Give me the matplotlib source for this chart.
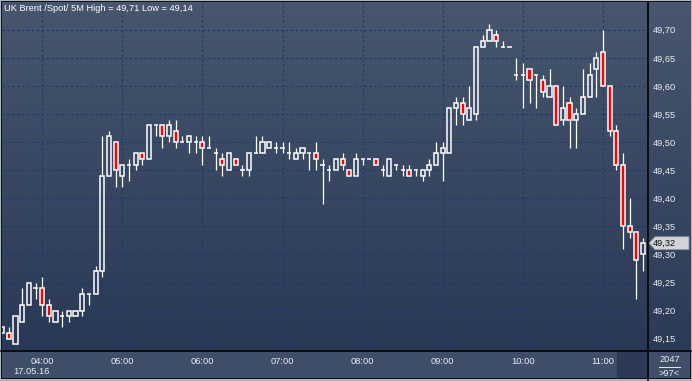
import matplotlib
matplotlib.use('Agg')
import matplotlib.pyplot as plt
import numpy as np
from matplotlib.patches import Polygon, Rectangle
from matplotlib.colors import LinearSegmentedColormap
from matplotlib.lines import Line2D

# ---------------- data (5-minute candles, first bar 03:30) ----------------
instrument = "UK Brent /Spot/ 5M"
date_label = "17.05.16"
first_bar_hour = 3.5
bar_minutes = 5
opens = [49.16, 49.16, 49.14, 49.18, 49.21, 49.24, 49.24, 49.21, 49.18, 49.19, 49.19, 49.19, 49.20, 49.23, 49.23, 49.27,
         49.44, 49.50, 49.44, 49.46, 49.46, 49.48, 49.47, 49.53, 49.53, 49.51, 49.52, 49.50, 49.50, 49.50, 49.50, 49.49,
         49.48, 49.47, 49.45, 49.47, 49.45, 49.45, 49.48, 49.48, 49.49, 49.49, 49.49, 49.48, 49.47, 49.48, 49.48, 49.48,
         49.46, 49.45, 49.45, 49.47, 49.45, 49.44, 49.47, 49.47, 49.47, 49.45, 49.44, 49.46, 49.45, 49.45, 49.45, 49.44,
         49.45, 49.46, 49.48, 49.48, 49.56, 49.57, 49.54, 49.55, 49.67, 49.68, 49.69, 49.67, 49.67, 49.62, 49.62, 49.63,
         49.62, 49.61, 49.58, 49.60, 49.54, 49.57, 49.54, 49.55, 49.58, 49.63, 49.66, 49.60, 49.52, 49.46, 49.35, 49.34,
         49.30]
highs = [49.17, 49.17, 49.19, 49.24, 49.25, 49.25, 49.26, 49.22, 49.20, 49.20, 49.20, 49.20, 49.24, 49.23, 49.28, 49.51,
         49.52, 49.50, 49.46, 49.47, 49.48, 49.48, 49.53, 49.53, 49.53, 49.54, 49.54, 49.51, 49.51, 49.51, 49.51, 49.51,
         49.49, 49.48, 49.48, 49.47, 49.46, 49.48, 49.51, 49.51, 49.50, 49.50, 49.50, 49.50, 49.49, 49.49, 49.48, 49.50,
         49.47, 49.46, 49.47, 49.48, 49.45, 49.48, 49.47, 49.47, 49.47, 49.46, 49.47, 49.46, 49.46, 49.46, 49.45, 49.45,
         49.47, 49.50, 49.50, 49.56, 49.58, 49.58, 49.60, 49.67, 49.69, 49.71, 49.70, 49.68, 49.67, 49.65, 49.64, 49.63,
         49.62, 49.62, 49.63, 49.60, 49.60, 49.58, 49.56, 49.63, 49.64, 49.66, 49.70, 49.60, 49.53, 49.48, 49.40, 49.34,
         49.33]
lows = [49.16, 49.15, 49.14, 49.18, 49.21, 49.22, 49.19, 49.18, 49.18, 49.17, 49.18, 49.19, 49.19, 49.21, 49.23, 49.26,
        49.44, 49.42, 49.42, 49.43, 49.45, 49.46, 49.47, 49.51, 49.49, 49.50, 49.49, 49.50, 49.48, 49.48, 49.46, 49.49,
        49.45, 49.44, 49.45, 49.46, 49.44, 49.44, 49.48, 49.48, 49.49, 49.48, 49.48, 49.47, 49.47, 49.47, 49.45, 49.45,
        49.39, 49.43, 49.45, 49.45, 49.44, 49.44, 49.46, 49.47, 49.46, 49.44, 49.44, 49.45, 49.44, 49.44, 49.44, 49.43,
        49.44, 49.46, 49.43, 49.48, 49.53, 49.53, 49.54, 49.54, 49.67, 49.68, 49.67, 49.67, 49.67, 49.61, 49.56, 49.57,
        49.56, 49.58, 49.58, 49.53, 49.53, 49.49, 49.49, 49.55, 49.58, 49.58, 49.60, 49.51, 49.45, 49.31, 49.33, 49.22,
        49.27]
closes = [49.17, 49.15, 49.19, 49.21, 49.25, 49.24, 49.21, 49.19, 49.20, 49.19, 49.20, 49.20, 49.23, 49.23, 49.27, 49.44,
          49.51, 49.45, 49.46, 49.46, 49.48, 49.47, 49.53, 49.53, 49.51, 49.53, 49.50, 49.50, 49.51, 49.50, 49.49, 49.49,
          49.48, 49.46, 49.48, 49.46, 49.45, 49.48, 49.48, 49.50, 49.50, 49.49, 49.49, 49.48, 49.48, 49.49, 49.48, 49.47,
          49.46, 49.45, 49.47, 49.46, 49.44, 49.47, 49.47, 49.47, 49.46, 49.45, 49.47, 49.46, 49.45, 49.44, 49.45, 49.45,
          49.46, 49.48, 49.49, 49.56, 49.57, 49.55, 49.56, 49.67, 49.68, 49.70, 49.68, 49.67, 49.67, 49.62, 49.62, 49.61,
          49.62, 49.59, 49.60, 49.53, 49.56, 49.54, 49.55, 49.58, 49.62, 49.65, 49.60, 49.52, 49.46, 49.35, 49.34, 49.29,
          49.32]
hour_ticks = [4, 5, 6, 7, 8, 9, 10, 11]
hour_labels = ["04:00", "05:00", "06:00", "07:00", "08:00", "09:00", "10:00", "11:00"]
price_ticks = [49.15, 49.20, 49.25, 49.30, 49.35, 49.40, 49.45, 49.50, 49.55, 49.60, 49.65, 49.70]
price_labels = ["49,15", "49,20", "49,25", "49,30", "49,35", "49,40", "49,45", "49,50", "49,55", "49,60", "49,65", "49,70"]
corner_top = "2047"
corner_bottom = ">97<"

# ---------------- figure ----------------
W, H = 692, 381
fig = plt.figure(figsize=(W / 100, H / 100), dpi=100)
fig.patch.set_facecolor('#aeb5c2')
FONT = 'Liberation Sans'
TXT = '#e8ebf0'
FS = 6.7

def px_axes(l, t, r, b, z=0):
    a = fig.add_axes([l / W, 1 - b / H, (r - l) / W, (b - t) / H])
    a.set_zorder(z)
    a.set_axis_off()
    return a

def gradient(a, top, bottom):
    cmap = LinearSegmentedColormap.from_list('g', [bottom, top])
    a.imshow(np.linspace(0, 1, 256).reshape(-1, 1), cmap=cmap, aspect='auto',
             extent=[0, 1, 0, 1], origin='lower', transform=a.transAxes, zorder=0)

# inner dark frame
frame = px_axes(1, 1, 691, 379, z=-2)
frame.add_patch(Rectangle((0, 0), 1, 1, transform=frame.transAxes, color='#101418'))

# right price panel
rp = px_axes(649, 2, 690, 350, z=-1)
gradient(rp, '#48576f', '#2b3a56')

# bottom time panel
bp = px_axes(2, 352, 647, 378, z=-1)
bp.add_patch(Rectangle((0, 0), 1, 1, transform=bp.transAxes, color='#3f4e69'))
bp.add_patch(Rectangle((615 / 645, 0), 1, 1, transform=bp.transAxes, color='#2c3a56'))

# corner panel
cp = px_axes(649, 352, 690, 378, z=-1)
cp.add_patch(Rectangle((0, 0), 1, 1, transform=cp.transAxes, color='#3f4e69'))

# main chart
ax = fig.add_axes([2 / W, 1 - 350 / H, (647 - 2) / W, (350 - 2) / H])
ax.set_zorder(2)
gradient(ax, '#48576f', '#293855')
for s in ax.spines.values():
    s.set_visible(False)

n = len(opens)
step = bar_minutes / 60.0
x = first_bar_hour + np.arange(n) * step
o = np.array(opens); h = np.array(highs); l = np.array(lows); c = np.array(closes)
top = np.maximum(o, c); bot = np.minimum(o, c)
bw = 0.62 * step

up = h > top
ax.vlines(x[up], top[up], h[up], color='white', lw=0.9, zorder=3)
dn = l < bot
ax.vlines(x[dn], l[dn], bot[dn], color='white', lw=0.9, zorder=3)
bull = c > o
bear = c < o
flat = c == o
ax.bar(x[bull], (c - o)[bull], bottom=o[bull], width=bw, facecolor='none',
       edgecolor='white', lw=1.1, zorder=4)
ax.bar(x[bear], (o - c)[bear], bottom=c[bear], width=bw, facecolor='#ff0000',
       edgecolor='white', lw=1.1, zorder=4)
ax.hlines(o[flat], x[flat] - bw / 2, x[flat] + bw / 2, color='white', lw=1.1, zorder=4)

ax.set_xlim(first_bar_hour - 0.02 * step, 11.55)
ax.set_ylim(49.1298, 49.7495)

ax.set_xticks(hour_ticks)
ax.set_xticklabels(hour_labels)
ax.set_yticks(price_ticks)
ax.set_yticklabels(price_labels)
ax.yaxis.tick_right()
ax.tick_params(axis='both', length=0, colors=TXT, labelsize=FS)
ax.tick_params(axis='y', pad=4)
ax.tick_params(axis='x', pad=5)
for t in ax.get_xticklabels() + ax.get_yticklabels():
    t.set_fontfamily(FONT)
ax.grid(True, color='#1c3a6c', lw=0.8, linestyle=(0, (2.2, 2.2)))
ax.set_axisbelow(True)

# separators
fig.add_artist(Line2D([647.5 / W, 647.5 / W], [0.5 / H, 1 - 1.5 / H], transform=fig.transFigure,
                      color='#0b0e14', lw=1.2))
fig.add_artist(Line2D([1.5 / W, 690.5 / W], [1 - 351 / H, 1 - 351 / H], transform=fig.transFigure,
                      color='#0b0e14', lw=1.2))

# title
title = "%s High = %s Low = %s" % (instrument, ("%.2f" % max(highs)).replace('.', ','),
                                      ("%.2f" % min(lows)).replace('.', ','))
fig.text(4 / W, 1 - 8.5 / H, title, color='white', fontsize=6.7, fontfamily=FONT, va='center', ha='left')

# date
fig.text(13 / W, 1 - 371.5 / H, date_label, color=TXT, fontsize=FS, fontfamily=FONT, va='center', ha='left')

# corner texts
fig.text(669.5 / W, 1 - 360 / H, corner_top, color=TXT, fontsize=FS, fontfamily=FONT, va='center', ha='center')
fig.add_artist(Line2D([659 / W, 680 / W], [1 - 366.5 / H, 1 - 366.5 / H], transform=fig.transFigure,
                      color=TXT, lw=0.7))
fig.text(669.5 / W, 1 - 373 / H, corner_bottom, color=TXT, fontsize=FS, fontfamily=FONT, va='center', ha='center')

# last price marker
fig.canvas.draw()
ypix = ax.transData.transform((x[-1], closes[-1]))[1]
ypix_top = H - ypix
verts = [(649 / W, 1 - ypix_top / H),
         (655 / W, 1 - (ypix_top - 6.5) / H),
         (689 / W, 1 - (ypix_top - 6.5) / H),
         (689 / W, 1 - (ypix_top + 6.5) / H),
         (655 / W, 1 - (ypix_top + 6.5) / H)]
fig.add_artist(Polygon(verts, closed=True, transform=fig.transFigure, facecolor='#d0d3d8',
                       edgecolor='#8a909c', lw=0.6, zorder=10))
fig.text(653 / W, 1 - ypix_top / H, ("%.2f" % closes[-1]).replace('.', ','), color='#101010',
         fontsize=FS, fontfamily=FONT, va='center', ha='left', zorder=11)

fig.savefig('out.png', dpi=100, facecolor=fig.get_facecolor())
